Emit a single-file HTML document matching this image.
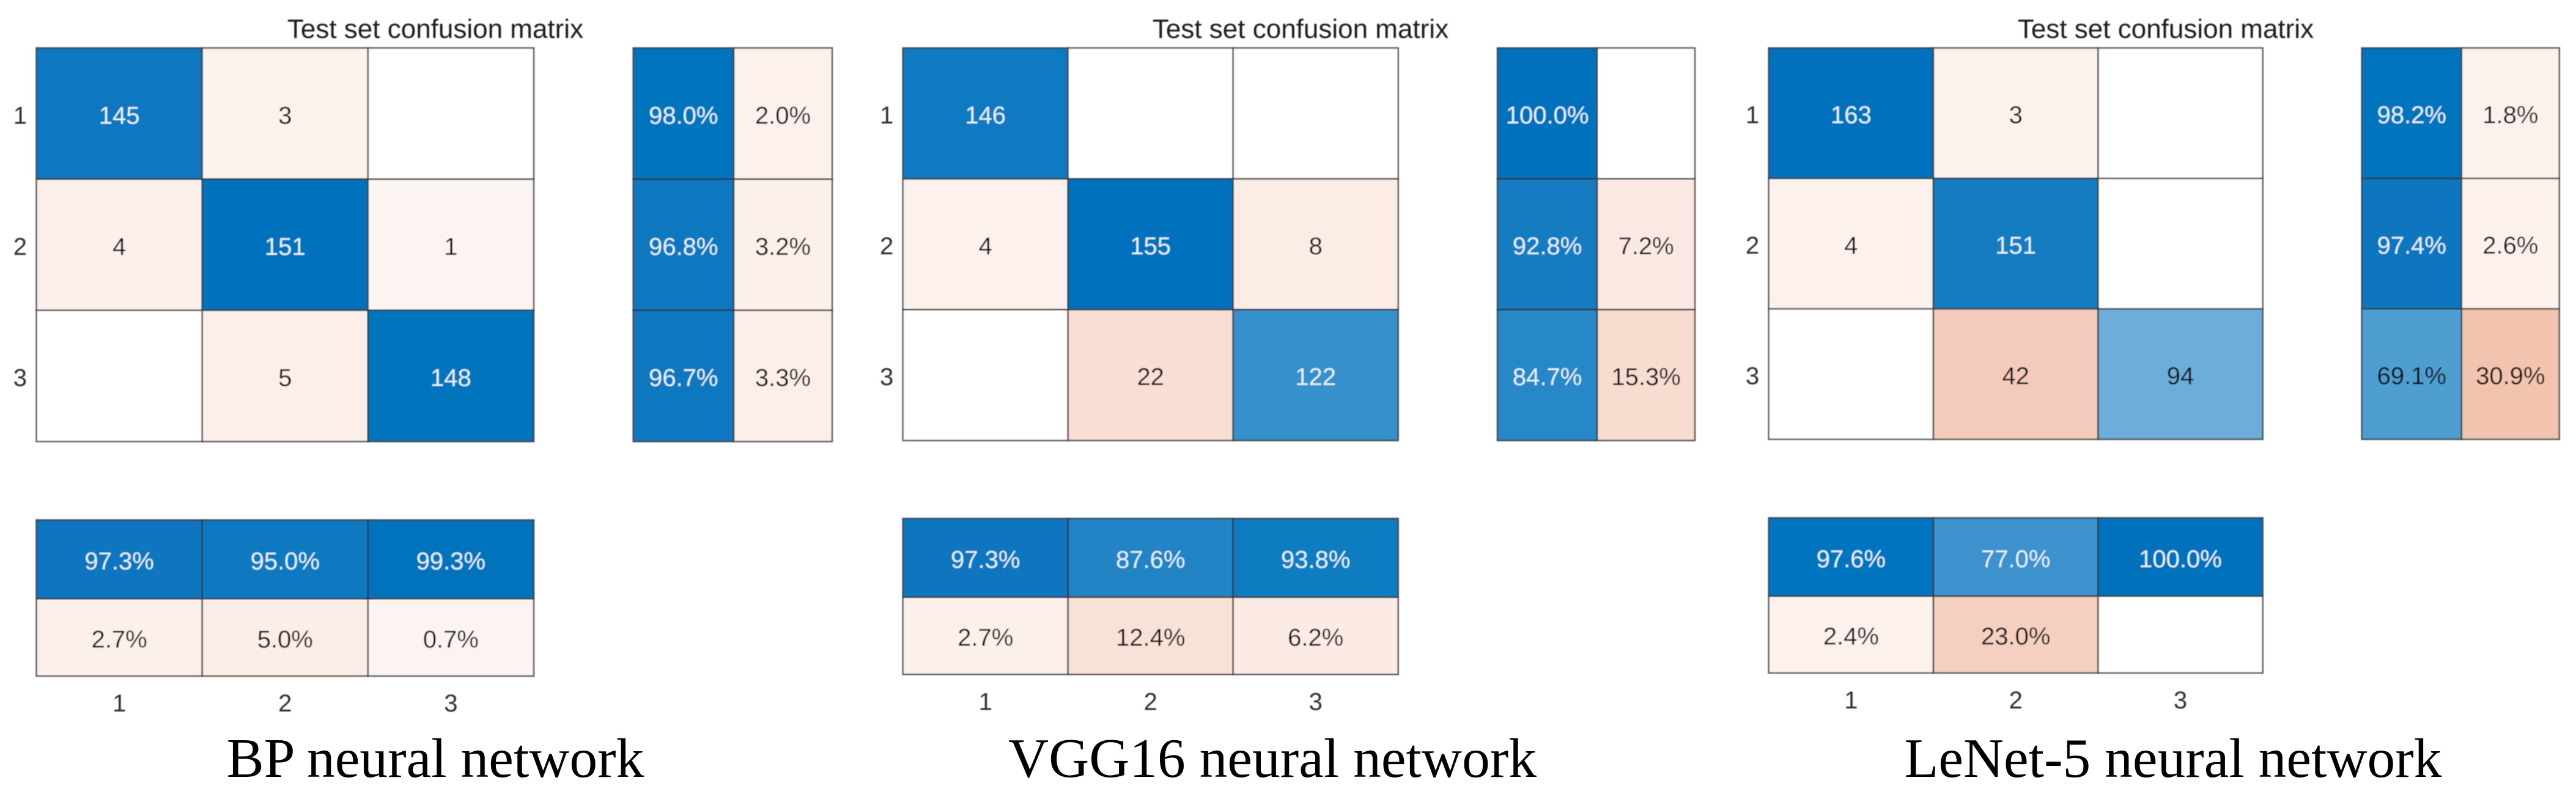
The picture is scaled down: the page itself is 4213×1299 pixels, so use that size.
<!DOCTYPE html>
<html lang="en">
<head>
<meta charset="utf-8">
<title>Test set confusion matrices</title>
<style>
  html, body { margin: 0; padding: 0; background: #fff; }
  body { width: 4213px; height: 1299px; overflow: hidden; }
  svg { display: block; }
  .sans { font-family: "Liberation Sans", Arial, sans-serif; }
  .serif { font-family: "Liberation Serif", "Times New Roman", serif; }
</style>
</head>
<body>
<svg id="chart" xmlns="http://www.w3.org/2000/svg" width="4213" height="1299" viewBox="0 0 4213 1299">
  <defs>
    <filter id="soft" x="-2%" y="-2%" width="104%" height="104%"><feGaussianBlur stdDeviation="0.7"/></filter>
  </defs>
  <rect x="0" y="0" width="4213" height="1299" fill="#ffffff"/>
  <g id="panels" filter="url(#soft)">
    <text class="sans" x="712" y="62" font-size="44" fill="#1a1a1a" text-anchor="middle">Test set confusion matrix</text>
    <text class="sans" x="2127" y="62" font-size="44" fill="#1a1a1a" text-anchor="middle">Test set confusion matrix</text>
    <text class="sans" x="3542" y="62" font-size="44" fill="#1a1a1a" text-anchor="middle">Test set confusion matrix</text>
  </g>
  <text class="serif" x="712" y="1271" font-size="91.5" fill="#000" text-anchor="middle">BP neural network</text>
  <text class="serif" x="2081" y="1271" font-size="91.5" fill="#000" text-anchor="middle">VGG16 neural network</text>
  <text class="serif" x="3554" y="1271" font-size="91.5" fill="#000" text-anchor="middle">LeNet-5 neural network</text>
</svg>
<script>
// ---- data ----
const classLabels = ['1', '2', '3'];

const bpCounts = [[145, 3, 0], [4, 151, 1], [0, 5, 148]];
const bpRowSummary = [[98.0, 2.0], [96.8, 3.2], [96.7, 3.3]];
const bpColSummary = [[97.3, 95.0, 99.3], [2.7, 5.0, 0.7]];

const vggCounts = [[146, 0, 0], [4, 155, 8], [0, 22, 122]];
const vggRowSummary = [[100.0, 0], [92.8, 7.2], [84.7, 15.3]];
const vggColSummary = [[97.3, 87.6, 93.8], [2.7, 12.4, 6.2]];

const lenetCounts = [[163, 3, 0], [4, 151, 0], [0, 42, 94]];
const lenetRowSummary = [[98.2, 1.8], [97.4, 2.6], [69.1, 30.9]];
const lenetColSummary = [[97.6, 77.0, 100.0], [2.4, 23.0, 0]];

// ---- layout frames ----
const bpFrame = { id: 'bp', left: 59.5, right: 873, top: 78.5, bottom: 722.3, sideLeft: 1035.7, sideRight: 1361, lowTop: 850.7, lowBottom: 1106 };
const vggFrame = { id: 'vgg16', left: 1476.7, right: 2286.7, top: 78.5, bottom: 720.7, sideLeft: 2449, sideRight: 2772, lowTop: 848.3, lowBottom: 1103.3 };
const lenetFrame = { id: 'lenet5', left: 2892.7, right: 3700.7, top: 78.5, bottom: 718.7, sideLeft: 3862.7, sideRight: 4185.7, lowTop: 847.3, lowBottom: 1101 };

const NS = 'http://www.w3.org/2000/svg';
const panelsGroup = document.getElementById('panels');

// ---- scales ----
function evenBand(start, end, n) {
  return i => start + (end - start) * i / n;
}
function twoBand(start, end) {
  const share = 0.505;
  return i => start + (end - start) * (i === 0 ? 0 : i === 1 ? share : 1);
}
function mix(rgb, a) {
  return 'rgb(' + rgb.map(c => Math.round(255 + (c - 255) * a)).join(',') + ')';
}
function goodColor(x) { return mix([0, 114, 189], x); }
function badColor(x) { return x <= 0 ? '#ffffff' : mix([217, 83, 25], 0.06 + 0.93 * x); }
function inkColor(isGood, x) { return isGood && x > 0.7 ? '#e4eff9' : '#111111'; }

// ---- drawing ----
function makeRect(x, y, w, h, fill) {
  const r = document.createElementNS(NS, 'rect');
  r.setAttribute('x', x.toFixed(1));
  r.setAttribute('y', y.toFixed(1));
  r.setAttribute('width', w.toFixed(1));
  r.setAttribute('height', h.toFixed(1));
  r.setAttribute('fill', fill);
  r.setAttribute('stroke', 'rgba(50,50,50,0.78)');
  r.setAttribute('stroke-width', '2.6');
  return r;
}
function makeText(str, x, y, fill, anchor) {
  const t = document.createElementNS(NS, 'text');
  t.setAttribute('class', 'sans');
  t.setAttribute('x', x.toFixed(1));
  t.setAttribute('y', y.toFixed(1));
  t.setAttribute('font-size', '40');
  t.setAttribute('fill', fill);
  t.setAttribute('text-anchor', anchor);
  t.textContent = str;
  return t;
}
function drawCell(x0, x1, y0, y1, fill, label, ink, name) {
  const rect = makeRect(x0, y0, x1 - x0, y1 - y0, fill);
  
  
  panelsGroup.appendChild(rect);
  if (label !== '') {
    const text = makeText(label, (x0 + x1) / 2, (y0 + y1) / 2 + 16.5, ink, 'middle');
    
    
    panelsGroup.appendChild(text);
  }
}
function pct(v) { return v > 0 ? v.toFixed(1) + '%' : ''; }

function drawPanel(frame, counts, rowSummary, colSummary) {
  const xs = evenBand(frame.left, frame.right, counts[0].length);
  const ys = evenBand(frame.top, frame.bottom, counts.length);
  const sideXs = twoBand(frame.sideLeft, frame.sideRight);
  const lowYs = twoBand(frame.lowTop, frame.lowBottom);
  const maxCount = Math.max(...counts.flat());

  // main matrix
  counts.forEach((row, r) => row.forEach((v, c) => {
    const x = v / maxCount;
    const isGood = r === c;
    const fill = v === 0 ? '#ffffff' : isGood ? goodColor(x) : badColor(x);
    drawCell(xs(c), xs(c + 1), ys(r), ys(r + 1), fill, v > 0 ? String(v) : '', inkColor(isGood, x),
      frame.id + '-count-cell-r' + (r + 1) + '-c' + (c + 1));
  }));

  // row summary (right)
  rowSummary.forEach((row, r) => row.forEach((v, c) => {
    const x = v / 100;
    const isGood = c === 0;
    const fill = v === 0 ? '#ffffff' : isGood ? goodColor(x) : badColor(x);
    drawCell(sideXs(c), sideXs(c + 1), ys(r), ys(r + 1), fill, pct(v), inkColor(isGood, x),
      frame.id + '-row-summary-r' + (r + 1) + '-c' + (c + 1));
  }));

  // column summary (bottom)
  colSummary.forEach((row, r) => row.forEach((v, c) => {
    const x = v / 100;
    const isGood = r === 0;
    const fill = v === 0 ? '#ffffff' : isGood ? goodColor(x) : badColor(x);
    drawCell(xs(c), xs(c + 1), lowYs(r), lowYs(r + 1), fill, pct(v), inkColor(isGood, x),
      frame.id + '-col-summary-r' + (r + 1) + '-c' + (c + 1));
  }));

  // tick labels
  classLabels.forEach((lab, i) => {
    const yTick = makeText(lab, frame.left - 15.5, (ys(i) + ys(i + 1)) / 2 + 16.5, '#2e2e2e', 'end');
    
    
    panelsGroup.appendChild(yTick);

    const xTick = makeText(lab, (xs(i) + xs(i + 1)) / 2, frame.lowBottom + 58, '#2e2e2e', 'middle');
    
    
    panelsGroup.appendChild(xTick);
  });
}

drawPanel(bpFrame, bpCounts, bpRowSummary, bpColSummary);
drawPanel(vggFrame, vggCounts, vggRowSummary, vggColSummary);
drawPanel(lenetFrame, lenetCounts, lenetRowSummary, lenetColSummary);
</script>
</body>
</html>
